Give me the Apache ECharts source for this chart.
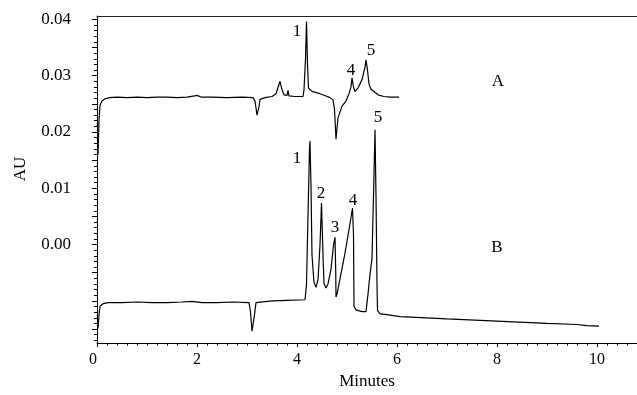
<!DOCTYPE html>
<html>
<head>
<meta charset="utf-8">
<script src="https://cdn.jsdelivr.net/npm/echarts@6/dist/echarts.min.js"></script>
<style>
  html, body { margin: 0; padding: 0; background: #fff; }
  #chart { width: 637px; height: 395px; }
</style>
</head>
<body>
<div id="chart"></div>
<script>
// trace A (upper chromatogram), [minutes, AU]
const traceA = [
  [0.02, 0.0159], [0.04, 0.0220], [0.06, 0.0247], [0.10, 0.0255], [0.16, 0.0259],
  [0.25, 0.0261], [0.4, 0.0262], [0.6, 0.0261], [0.8, 0.0262], [1.0, 0.0261],
  [1.2, 0.0262], [1.4, 0.0262], [1.6, 0.0261], [1.8, 0.0262], [1.95, 0.0264],
  [2.0, 0.0265], [2.08, 0.0262], [2.3, 0.0262], [2.6, 0.0261], [2.9, 0.0262],
  [3.12, 0.0261], [3.16, 0.0255], [3.2, 0.0230], [3.24, 0.0245], [3.26, 0.0258],
  [3.36, 0.0261], [3.5, 0.0263], [3.58, 0.0268], [3.66, 0.0290], [3.7, 0.0275],
  [3.74, 0.0266], [3.8, 0.0265], [3.82, 0.0274], [3.84, 0.0264], [3.96, 0.0263],
  [4.12, 0.0263], [4.14, 0.0275], [4.17, 0.0330], [4.19, 0.0396], [4.21, 0.0320],
  [4.23, 0.0278], [4.3, 0.0272], [4.46, 0.0268], [4.58, 0.0264], [4.66, 0.0261],
  [4.72, 0.0257], [4.75, 0.0240], [4.78, 0.0187], [4.82, 0.0225], [4.9, 0.0246],
  [4.98, 0.0255], [5.04, 0.0268], [5.08, 0.0280], [5.1, 0.0296], [5.13, 0.0280],
  [5.16, 0.0272], [5.22, 0.0278], [5.3, 0.0293], [5.36, 0.0315], [5.38, 0.0328],
  [5.41, 0.0310], [5.44, 0.0285], [5.48, 0.0276], [5.54, 0.0272], [5.62, 0.0266],
  [5.74, 0.0263], [5.86, 0.0262], [6.04, 0.0262]
];

// trace B (lower chromatogram), [minutes, AU]
const traceB = [
  [0.02, -0.0149], [0.04, -0.0125], [0.06, -0.0110], [0.12, -0.0105], [0.22, -0.0103],
  [0.5, -0.0103], [0.8, -0.0102], [1.1, -0.0103], [1.4, -0.0103], [1.7, -0.0102],
  [1.9, -0.0101], [2.1, -0.0103], [2.4, -0.0103], [2.7, -0.0102], [3.04, -0.0103],
  [3.07, -0.0119], [3.1, -0.0154], [3.14, -0.0131], [3.18, -0.0103], [3.22, -0.0100],
  [3.5, -0.0100], [3.8, -0.0099], [4.16, -0.0098], [4.19, -0.0072], [4.22, 0.0051],
  [4.25, 0.0172], [4.26, 0.0184], [4.28, 0.0103], [4.30, -0.0019], [4.34, -0.0067],
  [4.38, -0.0076], [4.42, -0.0062], [4.46, -0.0001], [4.49, 0.0074], [4.52, -0.0019],
  [4.54, -0.0069], [4.58, -0.0077], [4.62, -0.0070], [4.68, -0.0044], [4.73, -0.0001],
  [4.76, 0.0013], [4.774, -0.0044], [4.78, -0.0093], [4.8, -0.0088], [4.96, -0.0015],
  [5.06, 0.0037], [5.11, 0.0065], [5.13, 0.0017], [5.14, -0.0110], [5.18, -0.0116],
  [5.3, -0.0119], [5.38, -0.0119], [5.42, -0.0088], [5.46, -0.0053], [5.5, -0.0024],
  [5.53, 0.0086], [5.56, 0.0204], [5.58, 0.0086], [5.6, -0.0070], [5.61, -0.0117],
  [5.66, -0.0123], [5.76, -0.0124], [6.06, -0.0128], [7.0, -0.0132], [8.0, -0.0136],
  [9.0, -0.0140], [9.6, -0.0142], [9.8, -0.0144], [10.04, -0.0145]
];

// peak numbers and trace names
const peakLabels = ['1', '4', '5', 'A', '1', '2', '3', '4', '5', 'B'];
const peakLabelX = [4.0, 5.08, 5.48, 8.02, 4.0, 4.48, 4.76, 5.12, 5.62, 8.0];
const peakLabelY = [0.0378, 0.0310, 0.0345, 0.0290, 0.0152, 0.0090, 0.0030, 0.0079, 0.0225, -0.0006];

const xTickLabels = [0, 2, 4, 6, 8, 10];
const yTickLabels = [0.00, 0.01, 0.02, 0.03, 0.04];

const X_MIN = 0, X_MAX = 10.8;
const Y_MIN = -0.0175, Y_MAX = 0.0406;

// tick positions
const yMajorTicks = [];
for (let i = -3; i <= 8; i++) yMajorTicks.push(+(i * 0.005).toFixed(4));
const yMinorTicks = [];
for (let i = -17; i <= 40; i++) if (i % 5 !== 0) yMinorTicks.push(+(i * 0.001).toFixed(4));
const xMinorTicks = [];
for (let i = 1; i <= 53; i++) if (i % 10 !== 0) xMinorTicks.push(+(i * 0.2).toFixed(2));

const FONT = 'Liberation Serif';
const black = '#000';

const chart = echarts.init(document.getElementById('chart'), null, { renderer: 'canvas' });

const labelData = peakLabels.map((t, i) => ({ name: t, value: [peakLabelX[i], peakLabelY[i]] }));

chart.setOption({
  animation: false,
  backgroundColor: '#fff',
  grid: { left: 97, right: 0, top: 16, bottom: 45, containLabel: false },
  xAxis: [
    {
      type: 'value', min: X_MIN, max: X_MAX, position: 'bottom',
      name: 'Minutes', nameLocation: 'middle', nameGap: 26,
      nameTextStyle: { fontFamily: FONT, fontSize: 17, color: black },
      axisLine: { show: true, onZero: false, lineStyle: { color: black, width: 1 } },
      axisTick: { show: true, length: 4, customValues: xTickLabels, lineStyle: { color: black } },
      axisLabel: {
        customValues: xTickLabels, fontFamily: FONT, fontSize: 16, color: black, margin: 9,
        alignMinLabel: 'right'
      },
      splitLine: { show: false }
    },
    {
      type: 'value', min: X_MIN, max: X_MAX, position: 'bottom',
      axisLine: { show: false, onZero: false },
      axisTick: { show: true, length: 2.5, customValues: xMinorTicks, lineStyle: { color: black } },
      axisLabel: { show: false },
      splitLine: { show: false }
    },
    {
      type: 'value', min: X_MIN, max: X_MAX, position: 'top',
      axisLine: { show: true, onZero: false, lineStyle: { color: '#222', width: 1 } },
      axisTick: { show: false }, axisLabel: { show: false }, splitLine: { show: false }
    }
  ],
  yAxis: [
    {
      type: 'value', min: Y_MIN, max: Y_MAX, position: 'left',
      axisLine: { show: true, onZero: false, lineStyle: { color: black, width: 1 } },
      axisTick: { show: true, length: 5, customValues: yMajorTicks, lineStyle: { color: black } },
      axisLabel: {
        customValues: yTickLabels, fontFamily: FONT, fontSize: 17, color: black, margin: 26,
        formatter: v => v.toFixed(2)
      },
      splitLine: { show: false }
    },
    {
      type: 'value', min: Y_MIN, max: Y_MAX, position: 'left',
      axisLine: { show: false, onZero: false },
      axisTick: { show: true, length: 3, customValues: yMinorTicks, lineStyle: { color: black } },
      axisLabel: { show: false },
      splitLine: { show: false }
    }
  ],
  graphic: [
    {
      type: 'text', x: 21, y: 169, rotation: Math.PI / 2,
      style: { text: 'AU', fontFamily: FONT, fontSize: 17, fill: black, align: 'center', verticalAlign: 'middle' }
    }
  ],
  series: [
    {
      name: 'A', type: 'line', data: traceA, showSymbol: false, symbol: 'none',
      lineStyle: { color: black, width: 1.2 }, xAxisIndex: 0, yAxisIndex: 0
    },
    {
      name: 'B', type: 'line', data: traceB, showSymbol: false, symbol: 'none',
      lineStyle: { color: black, width: 1.2 }, xAxisIndex: 0, yAxisIndex: 0
    },
    {
      name: 'labels', type: 'scatter', data: labelData, symbolSize: 0,
      xAxisIndex: 0, yAxisIndex: 0, silent: true,
      itemStyle: { opacity: 1, color: black },
      label: {
        show: true, position: 'inside', formatter: '{b}', opacity: 1,
        fontFamily: FONT, fontSize: 17, color: black
      }
    }
  ]
});
</script>
</body>
</html>
